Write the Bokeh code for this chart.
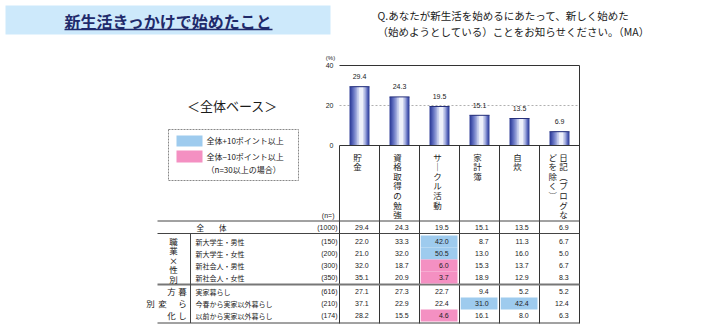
from bokeh.plotting import figure
from bokeh.models import ColumnDataSource, Range1d
from bokeh.core.properties import value
from bokeh.embed import file_html
from bokeh.resources import INLINE

# ---------------- data ----------------
title = "新生活きっかけで始めたこと"
question_lines = ["Q.あなたが新生活を始めるにあたって、新しく始めた",
                  "（始めようとしている）ことをお知らせください。（MA）"]
base_label = "＜全体ベース＞"
legend_labels = ["全体+10ポイント以上", "全体−10ポイント以上", "（n=30以上の場合）"]

categories = ["貯金", "資格取得の勉強", "サークル活動", "家計簿", "自炊", "日記（ブログなどを除く）"]
category_columns = [["貯金"], ["資格取得の勉強"], ["サ｜クル活動"], ["家計簿"], ["自炊"],
                    ["日記︵ブログな", "どを除く︶"]]
overall = [29.4, 24.3, 19.5, 15.1, 13.5, 6.9]
overall_n = 1000
y_ticks = [0, 20, 40]

row_labels = ["新大学生・男性", "新大学生・女性", "新社会人・男性", "新社会人・女性",
              "実家暮らし", "今春から実家以外暮らし", "以前から実家以外暮らし"]
row_n = [150, 200, 300, 350, 616, 210, 174]
savings = [22.0, 21.0, 32.0, 35.1, 27.1, 37.1, 28.2]
license_study = [33.3, 32.0, 18.7, 20.9, 27.3, 22.9, 15.5]
circle = [42.0, 50.5, 6.0, 3.7, 22.7, 22.4, 4.6]
household_book = [8.7, 13.0, 15.3, 18.9, 9.4, 31.0, 16.1]
cooking = [11.3, 16.0, 13.7, 12.9, 5.2, 42.4, 8.0]
diary = [6.7, 5.0, 6.7, 8.3, 5.2, 12.4, 6.3]
table_columns = [savings, license_study, circle, household_book, cooking, diary]

# ---------------- layout helpers (pixel -> data) ----------------
AX_L, COL_W, Y0_PX, PX_UNIT = 339, 40, 145, 2
W, H = 711, 331
def X(px): return (px - AX_L) / COL_W
def Y(py): return (Y0_PX - py) / PX_UNIT

CJK = value("Noto Sans CJK JP")
NUM = value("Liberation Sans")
BLUE, PINK = "#9ecbee", "#f490c2"
TXT = "#222222"

p = figure(width=W, height=H, x_range=Range1d(X(0), X(W)), y_range=Range1d(Y(H), Y(0)),
           output_backend="svg", toolbar_location=None, min_border=0,
           x_axis_location=None, y_axis_location=None, outline_line_color=None,
           background_fill_color="white", border_fill_color="white")
p.grid.visible = False

def texts(xs, ys, ts, size, align="left", font=CJK, color=TXT, style="normal", baseline="middle"):
    p.text(x=xs, y=ys, text=ts, text_font=font, text_font_size=size, text_align=align,
           text_baseline=baseline, text_color=color, text_font_style=style)

# ---------------- header ----------------
p.quad(left=[X(5)], right=[X(330)], top=[Y(5)], bottom=[Y(34)], fill_color="#cde9fb", line_color=None)
texts([X(168)], [Y(20)], [title], "16px", align="center", color="#1f2a6b", style="bold")
p.segment(x0=[X(64)], x1=[X(272)], y0=[Y(29)], y1=[Y(29)], line_color="#1f2a6b", line_width=1.5)
texts([X(377), X(377)], [Y(15), Y(31)], question_lines, "10.5px", color="#1a1a1a")
texts([X(232)], [Y(105)], [base_label], "13px", align="center", color="#1a1a1a")

# legend
p.quad(left=[X(168)], right=[X(298)], top=[Y(129)], bottom=[Y(180)], fill_color=None,
       line_color="#888888", line_dash="2 1", line_width=1)
p.quad(left=[X(176), X(176)], right=[X(202), X(202)], top=[Y(135), Y(150)],
       bottom=[Y(146), Y(162)], fill_color=[BLUE, PINK], line_color=None)
texts([X(206)] * 3, [Y(140), Y(156), Y(169)], legend_labels, "8px")

# ---------------- bar chart ----------------
n = len(categories)
xc = [i + 0.5 for i in range(n)]
p.segment(x0=[0], x1=[n], y0=[20], y1=[20], line_color="#b0b0b0", line_dash="2 2", line_width=1)
shades = ["#34429c", "#5361b6", "#7783ca", "#a0aadc", "#cbd1ee", "#eef0fa"]
widths = [0.5, 0.42, 0.34, 0.26, 0.18, 0.10]
offs = [0, 0.01, 0.02, 0.03, 0.035, 0.04]
for sh, wd, of in zip(shades, widths, offs):
    p.vbar(x=[c + of for c in xc], top=overall, bottom=0, width=wd, fill_color=sh, line_color=None)
p.segment(x0=[c - 0.25 for c in xc], x1=[c + 0.25 for c in xc], y0=overall, y1=overall,
          line_color="#26307a", line_width=1)
texts(xc, [v + 5 for v in overall], [f"{v:.1f}" for v in overall], "7px", align="center", font=NUM)

# axes frame
p.segment(x0=[0, 0, n], x1=[n, n, n], y0=[40, 0, 40], y1=[40, 0, Y(323)], line_color="#333333", line_width=1)
texts([X(333)] * len(y_ticks), y_ticks, [str(t) for t in y_ticks], "7px", align="right", font=NUM)
texts([X(330)], [Y(57)], ["(%)"], "6px", align="center", font=NUM)

# column dividers below plot
p.segment(x0=list(range(n)), x1=list(range(n)), y0=[0] * n, y1=[Y(323)] * n,
          line_color="#333333", line_width=1)

# category labels (vertical)
cx, cy, ct = [], [], []
for i, cols in enumerate(category_columns):
    if len(cols) == 1:
        col_x = [i + 0.45]
    else:
        col_x = [i + 0.6, i + 0.33]
    for colx, s in zip(col_x, cols):
        for k, ch in enumerate(s):
            cx.append(colx); cy.append(Y(156 + k * 9.6)); ct.append(ch)
texts(cx, cy, ct, "8.5px", align="center")

# ---------------- table ----------------
texts([X(334)], [Y(215)], ["(n=)"], "7px", align="right", font=NUM)
tl, tr = X(157), n
p.segment(x0=[tl, tl, tl], x1=[tr, tr, tr], y0=[Y(220.5), Y(233), Y(322.5)],
          y1=[Y(220.5), Y(233), Y(322.5)], line_color="#444444", line_width=1)
p.segment(x0=[tl], x1=[tr], y0=[Y(284)], y1=[Y(284)], line_color="#777777", line_width=2)
p.segment(x0=[X(190)], x1=[X(190)], y0=[Y(233)], y1=[Y(322.5)], line_color="#444444", line_width=1)

# overall row
texts([X(196)], [Y(227)], ["全　　体"], "7.5px")
texts([X(337)], [Y(227)], [f"({overall_n})"], "7px", align="right", font=NUM)
texts([i + 0.73 for i in range(n)], [Y(227)] * n, [f"{v:.1f}" for v in overall], "7px",
      align="right", font=NUM)

# group rows
row_centers_px = [241, 253, 265, 277, 291, 303, 315]
row_h_px = 12
hl_l, hl_r, hl_t, hl_b, hl_c = [], [], [], [], []
vx, vy, vt = [], [], []
for r, rc in enumerate(row_centers_px):
    for i, col in enumerate(table_columns):
        v = col[r]
        d = v - overall[i]
        if row_n[r] >= 30 and (d >= 10 or d <= -10):
            hl_l.append(i + 0.03); hl_r.append(i + 0.95)
            hl_t.append(Y(rc - row_h_px / 2)); hl_b.append(Y(rc + row_h_px / 2))
            hl_c.append(BLUE if d >= 10 else PINK)
        vx.append(i + 0.73); vy.append(Y(rc)); vt.append(f"{v:.1f}")
p.quad(left=hl_l, right=hl_r, top=hl_t, bottom=hl_b, fill_color=hl_c, line_color=None)
texts(vx, vy, vt, "7px", align="right", font=NUM)
texts([X(195)] * len(row_labels), [Y(c) for c in row_centers_px], row_labels, "7px")
texts([X(337)] * len(row_n), [Y(c) for c in row_centers_px], [f"({m})" for m in row_n], "7px",
      align="right", font=NUM)

# group labels (vertical)
g1 = list("職業×性別")
texts([X(173)] * len(g1), [Y(240 + k * 9.5) for k in range(len(g1))], g1, "8.5px", align="center")
g2_chars = ["暮", "ら", "し", "方", "変", "化", "別"]
g2_x = [182, 182, 182, 171, 162, 171, 150]
g2_y = [290, 302, 314, 290, 302, 314, 302]
texts([X(v) for v in g2_x], [Y(v) for v in g2_y], g2_chars, "8.5px", align="center")

open("out.html", "w").write(file_html(p, INLINE))
